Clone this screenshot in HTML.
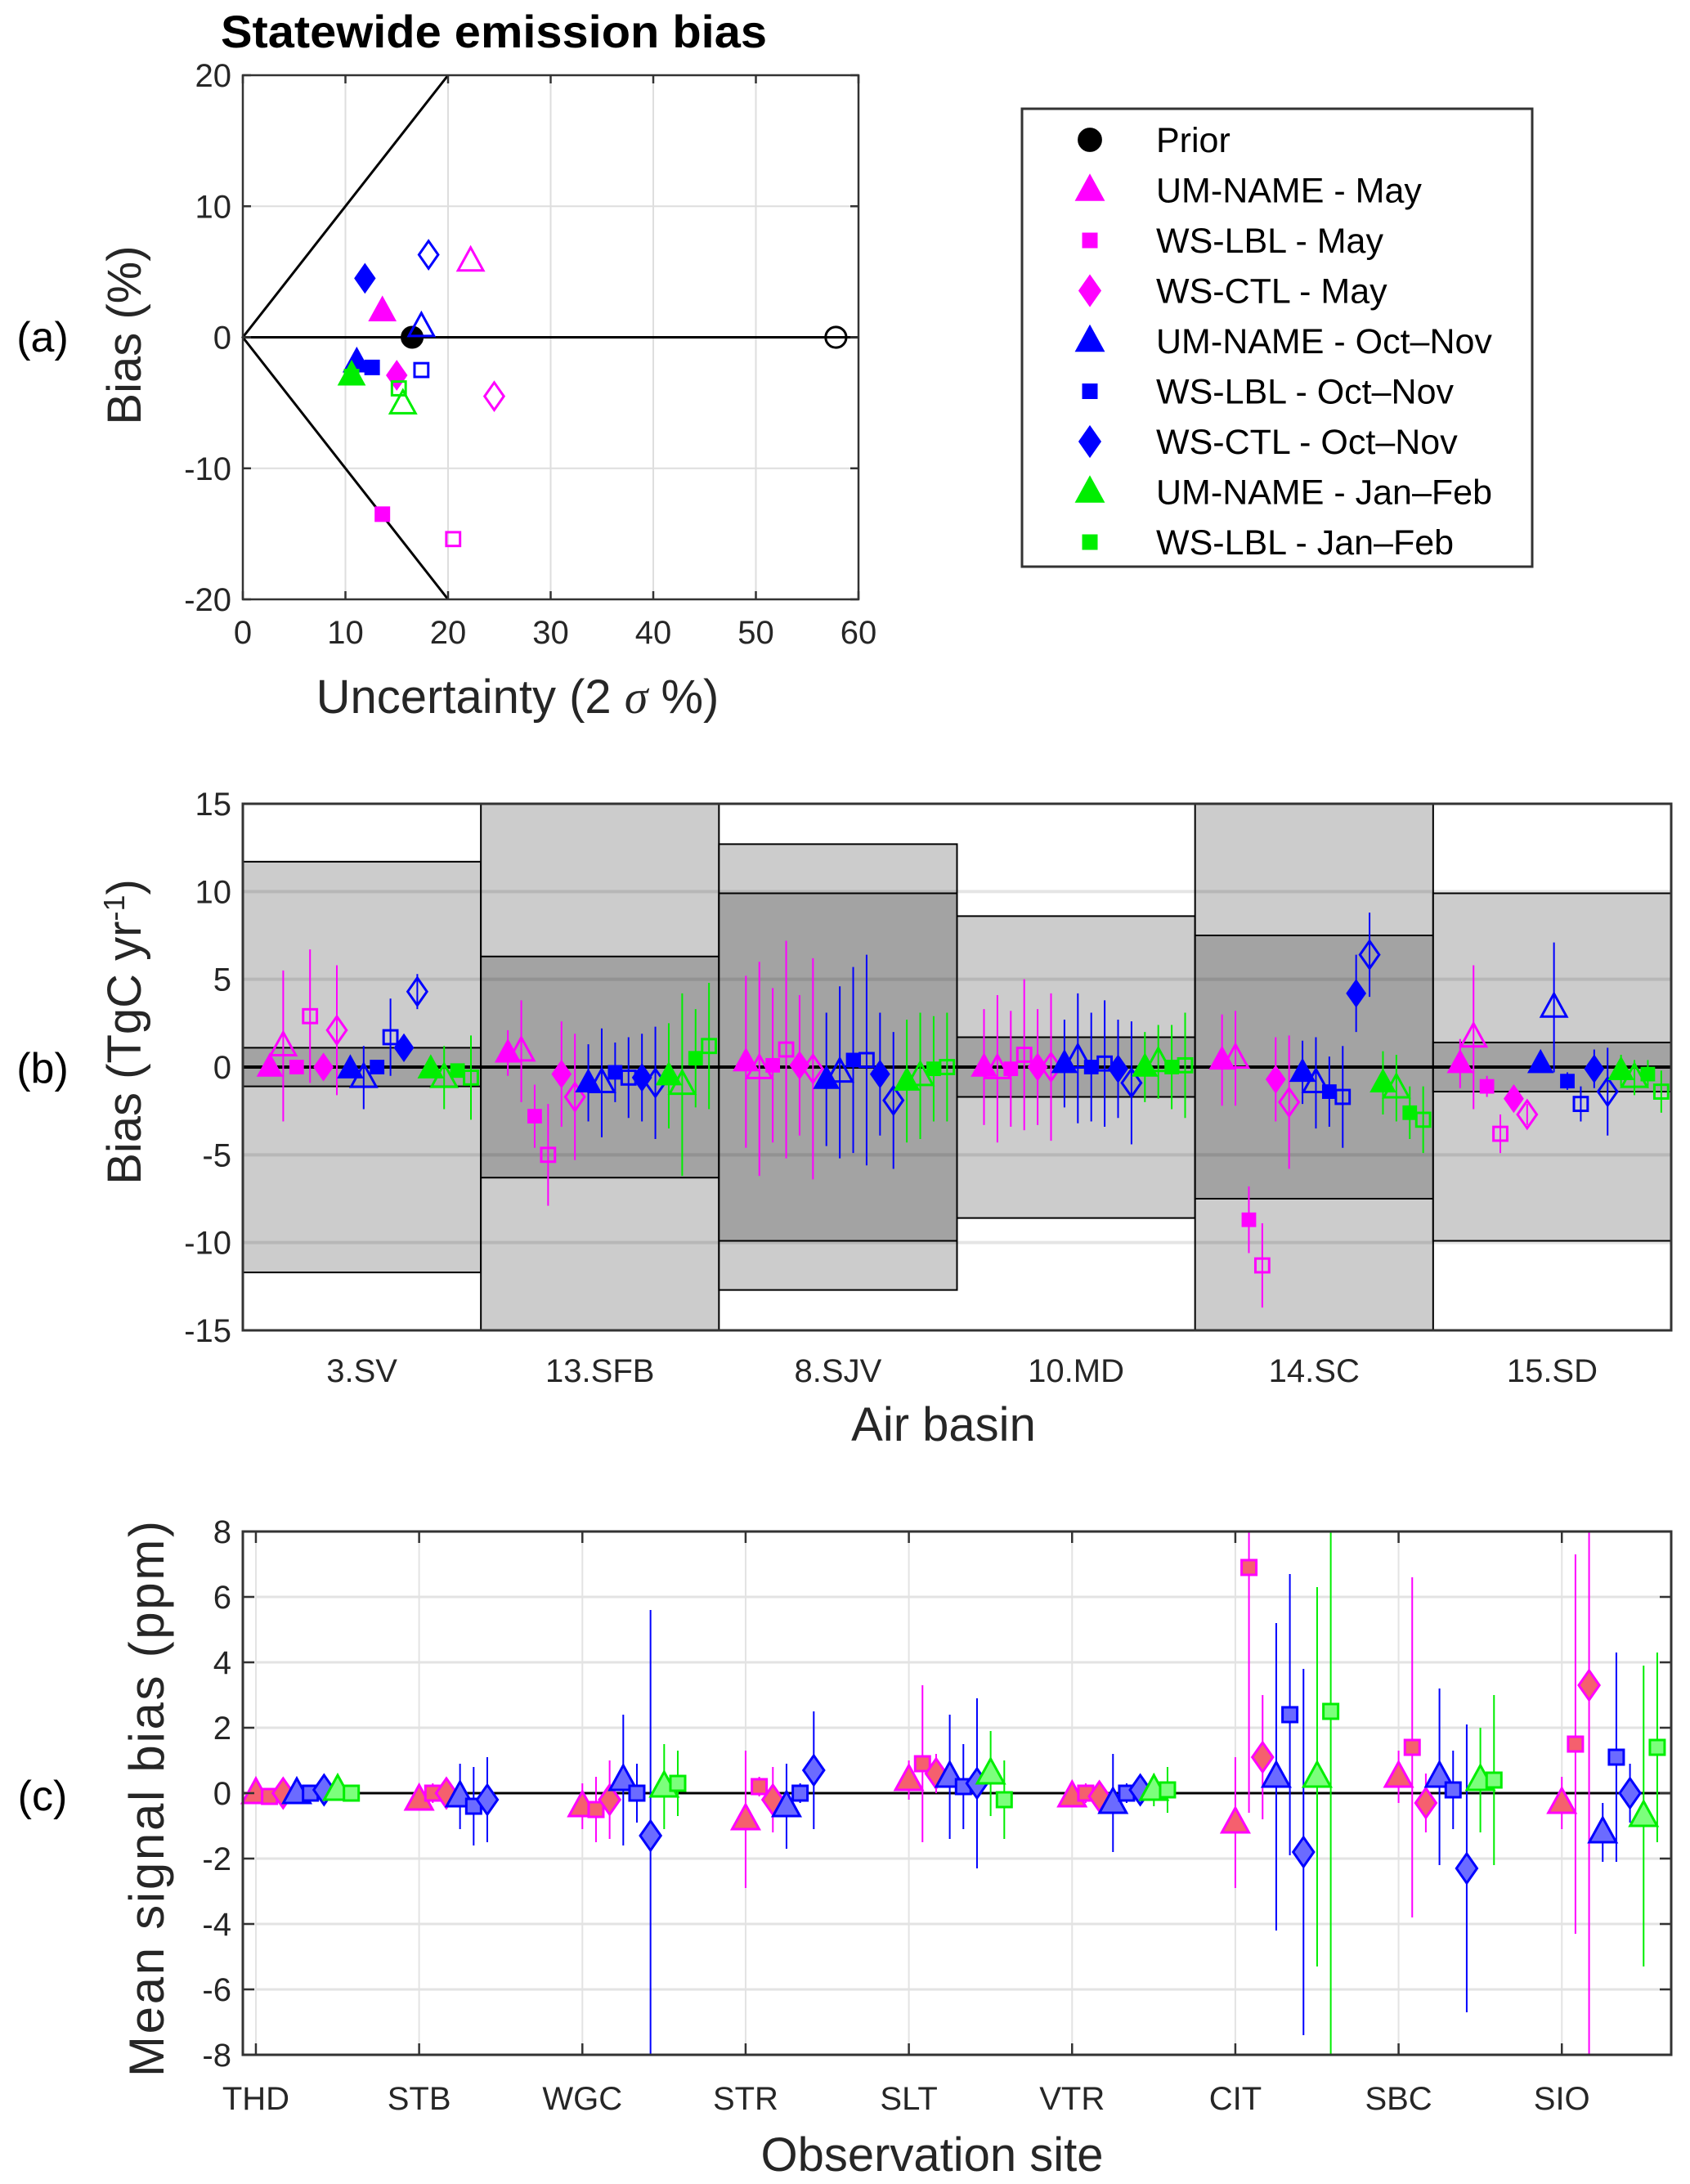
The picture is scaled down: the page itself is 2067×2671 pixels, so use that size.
<!DOCTYPE html>
<html><head><meta charset="utf-8">
<style>
html,body{margin:0;padding:0;background:#fff;}
svg{display:block;font-family:"Liberation Sans",Arial,sans-serif;}
</style></head>
<body>
<svg id="fig" width="2067" height="2671" viewBox="0 0 2067 2671" xmlns="http://www.w3.org/2000/svg">
<rect width="2067" height="2671" fill="#fff"/>
<g id="pa"></g>
<g id="pb"></g>
<g id="pc"></g>
</svg>
<script>
// ---------- Panel (a) data ----------
const aSeries = ["Prior","UM-NAME - May","WS-LBL - May","WS-CTL - May","UM-NAME - Oct–Nov","WS-LBL - Oct–Nov","WS-CTL - Oct–Nov","UM-NAME - Jan–Feb","WS-LBL - Jan–Feb"];
const aShapes = ["circle","tri","sq","dia","tri","sq","dia","tri","sq"];
const aColors = ["#000000","#ff00ff","#ff00ff","#ff00ff","#0000ff","#0000ff","#0000ff","#00ee00","#00ee00"];
const aFilledX = [16.5,13.6,13.6,15.0,11.1,12.6,11.9,10.6,10.6];
const aFilledY = [0,2.0,-13.5,-2.9,-1.9,-2.3,4.5,-2.9,-3.0];
const aOpenX = [57.8,22.2,20.5,24.5,17.4,17.4,18.1,15.6,15.2];
const aOpenY = [0,5.8,-15.4,-4.5,0.8,-2.5,6.3,-5.1,-3.9];
const aXTicks = [0,10,20,30,40,50,60];
const aYTicks = [-20,-10,0,10,20];

// ---------- Panel (b) data ----------
const bBasins = ["3.SV","13.SFB","8.SJV","10.MD","14.SC","15.SD"];
const bOuter = [11.7,15,12.7,8.6,15,9.9];
const bInner = [1.1,6.3,9.9,1.7,7.5,1.4];
const bShapes = ["tri","sq","dia","tri","sq","dia","tri","sq"];
const bColors = ["#ff00ff","#ff00ff","#ff00ff","#0000ff","#0000ff","#0000ff","#00ee00","#00ee00"];
const bVal_SV  = [0,1.2, 0,2.9, 0,2.1, -0.1,-0.6, 0,1.7, 1.1,4.3, -0.1,-0.6, -0.2,-0.6];
const bVal_SFB = [0.8,0.9, -2.8,-5.0, -0.4,-1.7, -0.9,-0.9, -0.3,-0.6, -0.6,-0.9, -0.5,-1.0, 0.5,1.2];
const bVal_SJV = [0.3,-0.1, 0.1,1.0, 0.1,-0.1, -0.7,-0.3, 0.4,0.4, -0.4,-1.9, -0.8,-0.5, -0.1,0.0];
const bVal_MD  = [0,-0.1, -0.1,0.7, 0,0, 0.2,0.5, 0,0.2, -0.1,-0.9, 0,0.3, 0,0.1];
const bVal_SC  = [0.4,0.5, -8.7,-11.3, -0.7,-2.0, -0.3,-0.9, -1.4,-1.7, 4.2,6.4, -0.9,-1.2, -2.6,-3.0];
const bVal_SD  = [0.2,1.7, -1.1,-3.8, -1.8,-2.7, 0.2,3.4, -0.8,-2.1, -0.1,-1.4, -0.2,-0.6, -0.4,-1.4];
const bErr_SV  = [0,4.3, 0,3.8, 0,3.7, 0,1.8, 0,2.2, 0,1.0, 0,1.8, 0,2.4];
const bErr_SFB = [1.3,2.9, 1.8,2.9, 3.0,3.6, 2.2,3.1, 1.7,2.3, 2.5,3.2, 3.0,5.2, 2.8,3.6];
const bErr_SJV = [4.9,6.1, 4.4,6.2, 4.0,6.3, 3.8,4.9, 5.3,6.0, 3.5,3.9, 3.5,3.6, 3.0,3.1];
const bErr_MD  = [3.3,4.2, 3.3,4.3, 3.3,4.2, 2.5,3.7, 3.1,3.6, 2.8,3.5, 2.0,2.1, 2.4,3.0];
const bErr_SC  = [2.6,2.7, 1.9,2.4, 2.4,3.8, 1.8,2.6, 2.0,2.9, 2.2,2.4, 1.8,1.9, 1.5,1.9];
const bErr_SD  = [1.4,4.1, 0.6,1.1, 0.4,0.6, 0.5,3.7, 0.5,1.0, 1.1,2.5, 0.9,1.0, 0.8,1.2];
const bVals = [bVal_SV,bVal_SFB,bVal_SJV,bVal_MD,bVal_SC,bVal_SD];
const bErrs = [bErr_SV,bErr_SFB,bErr_SJV,bErr_MD,bErr_SC,bErr_SD];
const bYTicks = [-15,-10,-5,0,5,10,15];

// ---------- Panel (c) data ----------
const cSites = ["THD","STB","WGC","STR","SLT","VTR","CIT","SBC","SIO"];
const cShapes = ["tri","sq","dia","tri","sq","dia","tri","sq"];
const cEdge = ["#ff00ff","#ff00ff","#ff00ff","#0000ff","#0000ff","#0000ff","#00ee00","#00ee00"];
const cFill = ["#f5606e","#f5606e","#f5606e","#6b6bff","#6b6bff","#6b6bff","#7cff7c","#7cff7c"];
const cVal_THD = [0,-0.1,0,0,0,0.1,0.1,0];
const cVal_STB = [-0.2,0,0,-0.1,-0.4,-0.2,null,null];
const cVal_WGC = [-0.4,-0.5,-0.2,0.4,0,-1.3,0.2,0.3];
const cVal_STR = [-0.8,0.2,-0.2,-0.4,0,0.7,null,null];
const cVal_SLT = [0.4,0.9,0.6,0.5,0.2,0.3,0.6,-0.2];
const cVal_VTR = [-0.1,0,-0.1,-0.3,0,0.1,0.1,0.1];
const cVal_CIT = [-0.9,6.9,1.1,0.5,2.4,-1.8,0.5,2.5];
const cVal_SBC = [0.5,1.4,-0.3,0.5,0.1,-2.3,0.4,0.4];
const cVal_SIO = [-0.3,1.5,3.3,-1.2,1.1,0,-0.7,1.4];
const cErr_THD = [0.2,0.2,0.3,0.3,0.2,0.3,0.3,0.2];
const cErr_STB = [0.3,0.3,0.3,1.0,1.2,1.3,0,0];
const cErr_WGC = [0.7,1.0,1.2,2.0,0.9,6.9,1.3,1.0];
const cErr_STR = [2.1,0.3,1.0,1.3,0.3,1.8,0,0];
const cErr_SLT = [0.6,2.4,0.6,1.9,1.3,2.6,1.3,1.2];
const cErr_VTR = [0.3,0.3,0.3,1.5,0.3,0.3,0.5,0.7];
const cErr_CIT = [2.0,7.5,1.9,4.7,4.3,5.6,5.8,10.5];
const cErr_SBC = [0.8,5.2,0.9,2.7,1.2,4.4,1.6,2.6];
const cErr_SIO = [0.8,5.8,11.3,0.9,3.2,0.9,4.6,2.9];
const cVals = [cVal_THD,cVal_STB,cVal_WGC,cVal_STR,cVal_SLT,cVal_VTR,cVal_CIT,cVal_SBC,cVal_SIO];
const cErrs = [cErr_THD,cErr_STB,cErr_WGC,cErr_STR,cErr_SLT,cErr_VTR,cErr_CIT,cErr_SBC,cErr_SIO];
const cYTicks = [-8,-6,-4,-2,0,2,4,6,8];

const NS = "http://www.w3.org/2000/svg";
const TICKFS = 40;
function el(parent, tag, attrs, text){
  const e = document.createElementNS(NS, tag);
  for (const k in attrs) e.setAttribute(k, attrs[k]);
  if (text !== undefined) e.textContent = text;
  parent.appendChild(e);
  return e;
}
function marker(g, shape, cx, cy, s, fill, stroke, sw){
  let e;
  if (shape === "circle") e = el(g,"circle",{cx:cx,cy:cy,r:s*0.45,fill:fill,stroke:stroke,"stroke-width":sw});
  else if (shape === "tri") e = el(g,"polygon",{points:`${cx},${cy-s*0.6} ${cx-s*0.55},${cy+s*0.4} ${cx+s*0.55},${cy+s*0.4}`,fill:fill,stroke:stroke,"stroke-width":sw});
  else if (shape === "sq") e = el(g,"rect",{x:cx-s*0.3,y:cy-s*0.3,width:s*0.6,height:s*0.6,fill:fill,stroke:stroke,"stroke-width":sw});
  else e = el(g,"polygon",{points:`${cx},${cy-s*0.6} ${cx+s*0.42},${cy} ${cx},${cy+s*0.6} ${cx-s*0.42},${cy}`,fill:fill,stroke:stroke,"stroke-width":sw});
  return e;
}

// ================= Panel a =================
(function(){
  const g = document.getElementById("pa");
  const L=297,R=1050,T=92,B=733;
  const xS = v => L + (v-0)/(60-0)*(R-L);
  const yS = v => B - (v+20)/40*(B-T);
  let t = el(g,"text",{x:270,y:58,"font-size":56,"font-weight":"bold",textLength:668,lengthAdjust:"spacingAndGlyphs"},"Statewide emission bias");
   
  aXTicks.forEach(v=>{ if(v>0&&v<60){ const l=el(g,"line",{x1:xS(v),x2:xS(v),y1:T,y2:B,stroke:"#dedede","stroke-width":2});
      }});
  aYTicks.forEach(v=>{ if(v>-20&&v<20){ const l=el(g,"line",{x1:L,x2:R,y1:yS(v),y2:yS(v),stroke:"#dedede","stroke-width":2});
      }});
  let ln = el(g,"polyline",{points:`${xS(20)},${yS(20)} ${xS(0)},${yS(0)} ${xS(20)},${yS(-20)}`,fill:"none",stroke:"#000","stroke-width":3});
   
  ln = el(g,"line",{x1:L,x2:R,y1:yS(0),y2:yS(0),stroke:"#000","stroke-width":3});
   
  let fr = el(g,"rect",{x:L,y:T,width:R-L,height:B-T,fill:"none",stroke:"#333","stroke-width":2.5});
   
  aXTicks.forEach(v=>{
    el(g,"line",{x1:xS(v),x2:xS(v),y1:B,y2:B-10,stroke:"#333","stroke-width":2.5});
    el(g,"line",{x1:xS(v),x2:xS(v),y1:T,y2:T+10,stroke:"#333","stroke-width":2.5});
    const tx = el(g,"text",{x:xS(v),y:B+54,"font-size":TICKFS,"text-anchor":"middle",fill:"#262626"},String(v));
     
  });
  aYTicks.forEach(v=>{
    el(g,"line",{x1:L,x2:L+10,y1:yS(v),y2:yS(v),stroke:"#333","stroke-width":2.5});
    el(g,"line",{x1:R,x2:R-10,y1:yS(v),y2:yS(v),stroke:"#333","stroke-width":2.5});
    const tx = el(g,"text",{x:L-14,y:yS(v)+14,"font-size":TICKFS,"text-anchor":"end",fill:"#262626"},String(v));
     
  });
  t = el(g,"text",{x:633,y:872,"font-size":58,"text-anchor":"middle",fill:"#262626"});
  t.innerHTML = 'Uncertainty (2 <tspan font-family="Liberation Serif" font-style="italic">σ</tspan> %)';
   
  t = el(g,"text",{x:0,y:0,"font-size":58,"text-anchor":"middle",fill:"#262626",transform:"translate(172,410) rotate(-90)"},"Bias (%)");
   
  t = el(g,"text",{x:52,y:430,"font-size":52,"text-anchor":"middle"},"(a)");
   
  for (let i=0;i<aSeries.length;i++){
    const m1 = marker(g,aShapes[i],xS(aOpenX[i]),yS(aOpenY[i]),28,"none",aColors[i],3);
     
    const m2 = marker(g,aShapes[i],xS(aFilledX[i]),yS(aFilledY[i]),30,aColors[i],aColors[i],1);
     
  }
  const lg = el(g,"g",{});
   
  el(lg,"rect",{x:1250,y:133,width:624,height:560,fill:"#fff",stroke:"#333","stroke-width":3});
  aSeries.forEach((s,i)=>{
    const y = 171 + i*61.5;
    const m = marker(lg,aShapes[i],1333,y,aShapes[i]==="sq"?30:32,aColors[i],aColors[i],1);
     
    const tx = el(lg,"text",{x:1414,y:y+15,"font-size":43},s);
     
  });
})();

// ================= Panel b =================
(function(){
  const g = document.getElementById("pb");
  const L=297,R=2044,T=983,B=1627;
  const bw = (R-L)/bBasins.length;
  const yS = v => B - (v+15)/30*(B-T);
  bBasins.forEach((b,i)=>{
    const x0 = L + i*bw;
    const r1 = el(g,"rect",{x:x0,y:yS(bOuter[i]),width:bw,height:yS(-bOuter[i])-yS(bOuter[i]),fill:"#cccccc",stroke:"#000","stroke-width":2});
     
    const r2 = el(g,"rect",{x:x0,y:yS(bInner[i]),width:bw,height:yS(-bInner[i])-yS(bInner[i]),fill:"#a3a3a3",stroke:"#000","stroke-width":2});
     
  });
  bYTicks.forEach(v=>{ if(v>-15&&v<15&&v!==0){ const l=el(g,"line",{x1:L,x2:R,y1:yS(v),y2:yS(v),stroke:"#000","stroke-opacity":0.1,"stroke-width":4});
      }});
  let z = el(g,"line",{x1:L,x2:R,y1:yS(0),y2:yS(0),stroke:"#000","stroke-width":4});
   
  bBasins.forEach((b,i)=>{
    const x0 = L + i*bw;
    for (let k=0;k<16;k++){
      const s = Math.floor(k/2), open = k%2===1;
      const v = bVals[i][k], e = bErrs[i][k];
      const x = x0 + 33 + k*16.4;
      if (e>0){ const l=el(g,"line",{x1:x,x2:x,y1:yS(v+e),y2:yS(v-e),stroke:bColors[s],"stroke-width":2});
          }
      const m = marker(g,bShapes[s],x,yS(v),28,open?"none":bColors[s],bColors[s],open?3:1);
      
      
    }
    const tx = el(g,"text",{x:x0+bw/2,y:1690,"font-size":TICKFS,"text-anchor":"middle",fill:"#262626"},b);
     
  });
  let fr = el(g,"rect",{x:L,y:T,width:R-L,height:B-T,fill:"none",stroke:"#333","stroke-width":3});
   
  bYTicks.forEach(v=>{
    const tx = el(g,"text",{x:L-14,y:yS(v)+14,"font-size":TICKFS,"text-anchor":"end",fill:"#262626"},String(v));
     
  });
  let t = el(g,"text",{x:1154,y:1762,"font-size":58,"text-anchor":"middle",fill:"#262626"},"Air basin");
   
  t = el(g,"text",{x:0,y:0,"font-size":58,"text-anchor":"middle",fill:"#262626",transform:"translate(172,1262) rotate(-90)"});
  t.innerHTML = 'Bias (TgC yr<tspan dy="-20" font-size="36">-1</tspan><tspan dy="20">)</tspan>';
   
  t = el(g,"text",{x:52,y:1324,"font-size":52,"text-anchor":"middle"},"(b)");
   
})();

// ================= Panel c =================
(function(){
  const g = document.getElementById("pc");
  const L=297,R=2044,T=1873,B=2513;
  const xmin=0.92, xmax=9.67;
  const xS = v => L + (v-xmin)/(xmax-xmin)*(R-L);
  const yS = v => B - (v+8)/16*(B-T);
  cSites.forEach((s,i)=>{ const l=el(g,"line",{x1:xS(i+1),x2:xS(i+1),y1:T,y2:B,stroke:"#e3e3e3","stroke-width":2});
      });
  cYTicks.forEach(v=>{ if(v>-8&&v<8&&v!==0){ const l=el(g,"line",{x1:L,x2:R,y1:yS(v),y2:yS(v),stroke:"#e3e3e3","stroke-width":3});
      }});
  let z = el(g,"line",{x1:L,x2:R,y1:yS(0),y2:yS(0),stroke:"#000","stroke-width":3});
   
  cSites.forEach((s,i)=>{
    for (let k=0;k<8;k++){
      const v = cVals[i][k]; if (v===null) continue;
      const e = cErrs[i][k];
      const x = xS(i+1 + k*0.0835);
      const y1 = Math.max(T, yS(v+e)), y2 = Math.min(B, yS(v-e));
      if (e>0){ const l=el(g,"line",{x1:x,x2:x,y1:y1,y2:y2,stroke:cEdge[k],"stroke-width":2});
          }
      const m = marker(g,cShapes[k],x,yS(v),30,cFill[k],cEdge[k],3);
       
    }
    const tx = el(g,"text",{x:xS(i+1),y:2580,"font-size":TICKFS,"text-anchor":"middle",fill:"#262626"},s);
     
  });
  let fr = el(g,"rect",{x:L,y:T,width:R-L,height:B-T,fill:"none",stroke:"#333","stroke-width":3});
   
  cSites.forEach((s,i)=>{
    el(g,"line",{x1:xS(i+1),x2:xS(i+1),y1:B,y2:B-14,stroke:"#333","stroke-width":2.5});
    el(g,"line",{x1:xS(i+1),x2:xS(i+1),y1:T,y2:T+14,stroke:"#333","stroke-width":2.5});
  });
  cYTicks.forEach(v=>{
    el(g,"line",{x1:L,x2:L+14,y1:yS(v),y2:yS(v),stroke:"#333","stroke-width":2.5});
    el(g,"line",{x1:R,x2:R-14,y1:yS(v),y2:yS(v),stroke:"#333","stroke-width":2.5});
    const tx = el(g,"text",{x:L-14,y:yS(v)+14,"font-size":TICKFS,"text-anchor":"end",fill:"#262626"},String(v));
     
  });
  let t = el(g,"text",{x:1140,y:2655,"font-size":58,"text-anchor":"middle",fill:"#262626"},"Observation site");
   
  t = el(g,"text",{x:0,y:0,"font-size":60,"text-anchor":"middle",fill:"#262626",textLength:680,lengthAdjust:"spacing",transform:"translate(200,2200) rotate(-90)"},"Mean signal bias (ppm)");
   
  t = el(g,"text",{x:52,y:2214,"font-size":52,"text-anchor":"middle"},"(c)");
   
})();
</script>
</body></html>
